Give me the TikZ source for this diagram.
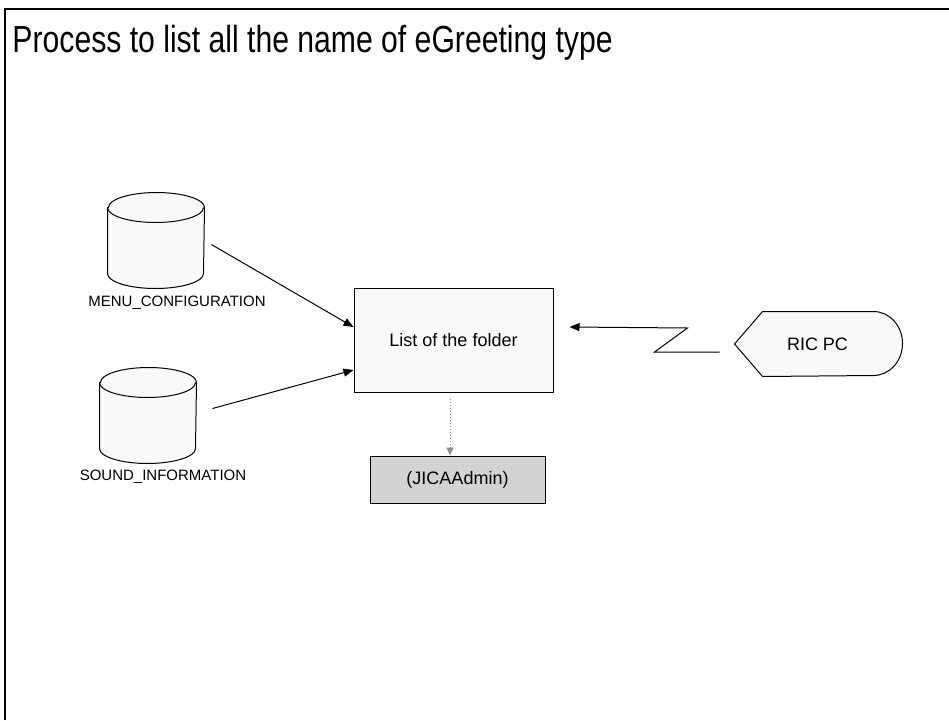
\documentclass[tikz,border=0pt]{standalone}
\usepackage{fontspec}
\setmainfont{Liberation Sans}
\newfontfamily\titlefont[FakeStretch=0.8]{Liberation Sans}
\usepackage{tikz}
\usetikzlibrary{shapes.geometric, arrows.meta, positioning}
\definecolor{paper}{HTML}{F9F9F9}
\definecolor{shade}{HTML}{D3D3D3}
\definecolor{dotline}{HTML}{8C8C8C}

\begin{document}
\begin{tikzpicture}[
  x=1pt, y=-1pt, line width=1pt,
  dbase/.style = {rectangle, minimum width=96pt, minimum height=95pt, inner sep=0pt},
  lbl/.style = {font=\fontsize{15}{18}\selectfont, inner sep=0pt},
  box/.style = {rectangle, draw, text centered, inner sep=0pt,
                font=\fontsize{18}{21}\selectfont},
  arr/.style = {-{Triangle[length=10pt, width=8pt]}},
  dotarr/.style = {-{Triangle[length=8pt, width=7pt]}, dotted, draw=dotline},
]
  \useasboundingbox (0,0) rectangle (949,720);
  % frame and title
  \draw[line width=2.8pt] (5,720) -- (5,9) -- (949,9);
  \node[anchor=base west, inner sep=0pt, font=\titlefont\fontsize{37.7}{40}\selectfont]
    (title) at (12,52) {Process to list all the name of eGreeting type};

  % data stores
  \node[dbase] (menu)  at (156,240.5) {};
  \node[lbl]   (menulbl)  at (177,303) {MENU\_CONFIGURATION};
  \node[dbase] (sound) at (148,415.5) {};
  \node[lbl]   (soundlbl) at (163,477) {SOUND\_INFORMATION};
  \foreach \db in {menu, sound} {
    \draw[fill=paper] ([yshift=-15pt]\db.north west) -- ([yshift=15pt]\db.south west)
      arc[start angle=180, end angle=360, x radius=48pt, y radius=15pt]
      -- ([yshift=-15pt]\db.north east)
      arc[start angle=0, end angle=180, x radius=48pt, y radius=15pt] -- cycle;
    \draw ([yshift=-15pt]\db.north west)
      arc[start angle=180, end angle=360, x radius=48pt, y radius=15pt];
  }

  % process
  \node[box, fill=paper, minimum width=199pt, minimum height=104pt] (folder) at (453.5,340) {List of the folder};
  \node[box, fill=shade, minimum width=175pt, minimum height=47pt, below=63pt of folder, xshift=4pt] (admin) {(JICAAdmin)};

  % terminal
  \node[minimum width=167pt, minimum height=64pt, inner sep=0pt] (ric) at (818.5,344) {};
  \draw[fill=paper] (ric.west) -- ([xshift=28pt]ric.north west) -- ([xshift=-29pt]ric.north east)
    arc[start angle=90, end angle=-90, x radius=29pt, y radius=32pt]
    -- ([xshift=28pt]ric.south west) -- cycle;
  \node[lbl, font=\fontsize{18}{21}\selectfont] (riclbl) at ([xshift=-1pt]ric.center) {RIC PC};

  \draw[arr, shorten <=8pt] (menu.east) -- ([yshift=13pt]folder.west);
  \draw[arr] ([xshift=16pt, yshift=7pt]sound.east) -- ([yshift=-30pt]folder.west);
  \draw[dotarr] ([xshift=-3.5pt, yshift=-6pt]folder.south) -- ([xshift=-3.5pt]folder.south |- admin.north);
  \draw[arr] ([xshift=-15pt, yshift=-8pt]ric.west) -- ++(-65,0) -- ++(33,-24)
    -- ([xshift=16pt, yshift=13pt]folder.east);
\end{tikzpicture}
\end{document}
